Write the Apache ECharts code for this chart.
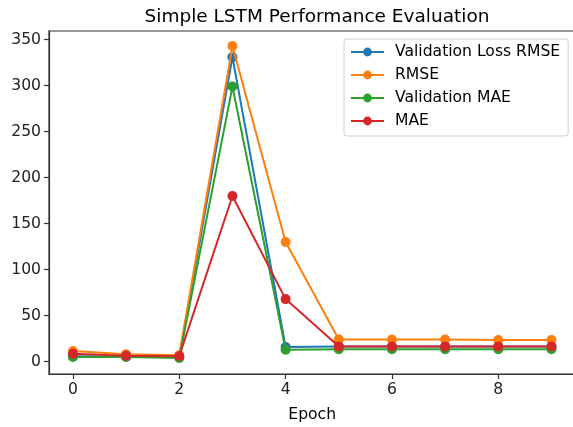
<!DOCTYPE html>
<html><head><meta charset="utf-8">
<script src="https://cdn.jsdelivr.net/npm/echarts@6/dist/echarts.min.js"></script>
<style>html,body{margin:0;padding:0;background:#fff}#c{width:573px;height:427px}</style>
</head><body><div id="c"></div>
<script>
const epochs = [0,1,2,3,4,5,6,7,8,9];
const valLossRmse = [6, 5.5, 5, 331, 16, 16.5, 16.5, 16.5, 16.5, 16.5];
const rmse = [11.5, 8, 7, 343, 130, 24, 24, 24, 23.5, 23.5];
const valMae = [5, 5, 4, 299, 13, 13.5, 13.5, 13.5, 13.5, 13.5];
const mae = [8.5, 6.5, 6, 180, 68, 16.5, 16.5, 16.5, 16.5, 16.5];
const xTicks = [0,2,4,6,8];
const yTicks = [0,50,100,150,200,250,300,350];

const names = ['Validation Loss RMSE','RMSE','Validation MAE','MAE'];
const colors = ['#1f77b4','#ff7f0e','#2ca02c','#d62728'];
const vals = [valLossRmse, rmse, valMae, mae];
const font = 'DejaVu Sans';

const chart = echarts.init(document.getElementById('c'), null, {renderer:'canvas'});
chart.setOption({
  animation:false,
  backgroundColor:'#fff',
  title:{text:'Simple LSTM Performance Evaluation', left:312, textAlign:'center', top:3,
    textStyle:{fontFamily:font, fontSize:18.5, fontWeight:'normal', color:'#000'}},
  grid:{left:49, top:31, right:-2.4, bottom:53, show:true, borderColor:'#333', borderWidth:1.2,
    backgroundColor:'transparent', containLabel:false, outerBoundsMode:'none'},
  legend:{orient:'vertical', left:344, top:39, data:names,
    backgroundColor:'#fff', borderColor:'#d0d0d0', borderWidth:1, borderRadius:3,
    padding:[4,8,6,6], itemGap:5, itemWidth:33, itemHeight:11,
    textStyle:{fontFamily:font, fontSize:15.6, lineHeight:18, color:'#000', padding:[0,0,0,6]}},
  xAxis:{type:'value', min:-0.45, max:9.45,
    name:'Epoch', nameLocation:'middle', nameGap:33,
    nameTextStyle:{fontFamily:font, fontSize:15.6, color:'#000'},
    axisLine:{show:true, onZero:false, lineStyle:{color:'#333', width:1.2}},
    axisTick:{show:true, customValues:xTicks, length:5, lineStyle:{color:'#333', width:1.2}},
    axisLabel:{customValues:xTicks, fontFamily:font, fontSize:15.6, color:'#222', margin:8},
    splitLine:{show:false}},
  yAxis:{type:'value', min:-13.4, max:359.4,
    axisLine:{show:true, onZero:false, lineStyle:{color:'#333', width:1.2}},
    axisTick:{show:true, customValues:yTicks, length:5, lineStyle:{color:'#333', width:1.2}},
    axisLabel:{customValues:yTicks, fontFamily:font, fontSize:15.6, color:'#222', margin:8},
    splitLine:{show:false}},
  series: names.map((n,i)=>({
    name:n, type:'line', data:epochs.map((e,j)=>[e, vals[i][j]]),
    symbol:'circle', symbolSize:10, showSymbol:true,
    lineStyle:{color:colors[i], width:2}, itemStyle:{color:colors[i]},
    z:2+i
  }))
});
</script></body></html>
